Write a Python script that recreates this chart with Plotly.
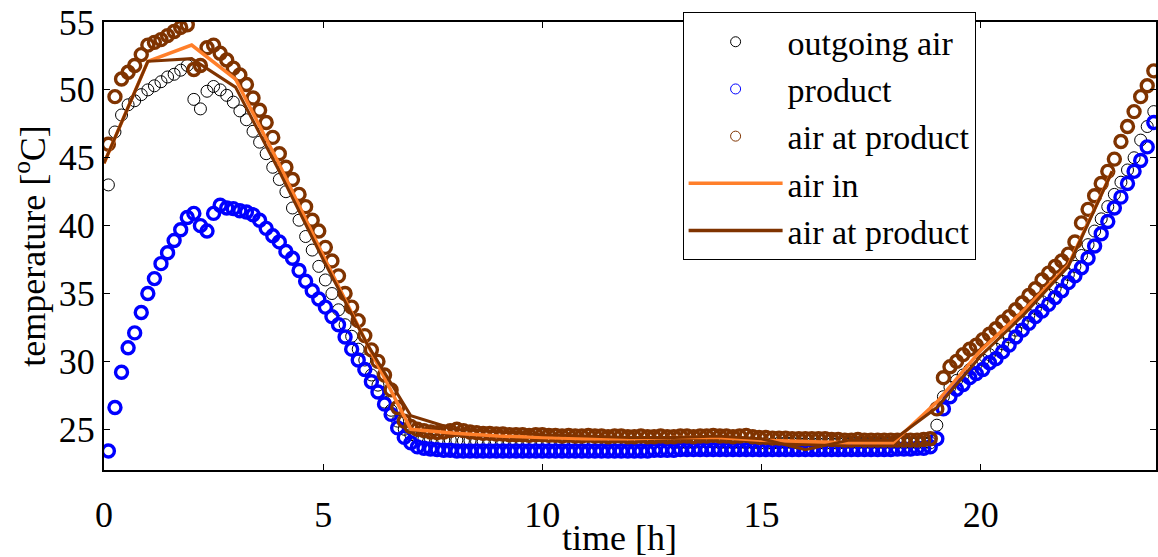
import numpy as np
import plotly.graph_objects as go

# Sampling grid of the logged temperatures [h] (one sample every 9 minutes)
time_h = np.round(0.10 + 0.15 * np.arange(160), 2)

# --- measured temperatures [°C], split into heating / holding / reheating phases
outgoing_heat = [43.0, 46.9, 48.15, 48.9, 49.2, 49.65, 50.0, 50.3, 50.6, 50.95,
                 51.15, 51.45, 51.8, 49.3, 48.6, 49.9, 50.25, 50.0, 49.6, 49.1,
                 48.45, 47.8, 46.95, 46.15, 45.3, 44.3, 43.4, 42.5, 41.3, 40.4,
                 39.2, 38.2, 37.0, 36.0, 35.0, 33.8, 32.7, 31.85, 30.9, 30.1,
                 29.0, 28.25, 27.0, 26.4, 25.6, 25.0, 24.6, 24.4, 24.3]
outgoing_hold = [24.25, 24.2, 24.2, 24.2, 24.2, 24.15, 24.15, 24.1, 24.1, 24.1,
                 24.1, 24.05, 24.05, 24.05, 24.05, 24.0, 24.0, 24.0, 24.0, 24.0,
                 24.0, 24.0, 24.05, 24.0, 24.0, 24.0, 24.0, 24.0, 24.0, 24.0,
                 24.0, 24.0, 24.0, 24.0, 24.05, 24.05, 24.05, 24.0, 24.0, 24.0,
                 24.0, 24.05, 24.05, 24.05, 24.0, 24.0, 24.0, 24.0, 24.0, 24.0,
                 23.95, 23.95, 23.95, 24.0, 24.0, 24.0, 23.95, 23.95, 23.95, 23.95,
                 23.95, 23.95, 23.95, 24.0, 24.0, 24.0, 24.0, 24.0, 24.0, 24.0,
                 24.0, 24.0, 24.0, 24.0, 24.0, 24.0, 24.0]
outgoing_reheat = [25.3, 27.4, 28.1, 28.6, 29.0, 29.4, 29.8, 30.1, 30.5, 30.9,
                   31.3, 31.8, 32.3, 32.9, 33.4, 33.9, 34.4, 34.9, 35.4, 35.9,
                   36.4, 37.0, 37.8, 38.6, 39.6, 40.5, 41.4, 42.3, 43.2, 44.1,
                   45.0, 46.3, 47.3, 48.4]

product_heat = [23.4, 26.6, 29.2, 31.0, 32.1, 33.6, 35.0, 36.1, 37.2, 38.0,
                38.9, 39.7, 40.6, 40.9, 40.0, 39.6, 40.9, 41.5, 41.3, 41.25,
                41.1, 41.0, 40.8, 40.4, 39.8, 39.25, 38.8, 38.1, 37.6, 36.7,
                35.9, 35.2, 34.6, 34.0, 33.3, 32.7, 31.8, 30.9, 30.1, 29.4,
                28.5, 27.75, 26.85, 26.1, 25.1, 24.4, 24.0, 23.7, 23.6]
product_hold = [23.55, 23.5, 23.45, 23.45, 23.4, 23.4, 23.4, 23.4, 23.4, 23.4,
                23.4, 23.4, 23.4, 23.4, 23.4, 23.4, 23.4, 23.4, 23.4, 23.4,
                23.4, 23.4, 23.4, 23.4, 23.4, 23.4, 23.4, 23.4, 23.4, 23.4,
                23.4, 23.4, 23.4, 23.4, 23.45, 23.45, 23.45, 23.45, 23.5, 23.5,
                23.5, 23.5, 23.5, 23.5, 23.5, 23.5, 23.5, 23.5, 23.5, 23.5,
                23.5, 23.5, 23.5, 23.5, 23.5, 23.5, 23.5, 23.5, 23.5, 23.5,
                23.5, 23.5, 23.5, 23.5, 23.5, 23.5, 23.5, 23.5, 23.5, 23.5,
                23.5, 23.55, 23.55, 23.55, 23.6, 23.6, 23.7]
product_reheat = [24.3, 26.5, 27.4, 27.95, 28.3, 28.8, 29.1, 29.4, 29.9, 30.2,
                  30.7, 31.2, 31.8, 32.3, 32.8, 33.3, 33.7, 34.2, 34.7, 35.2,
                  35.8, 36.3, 36.9, 37.6, 38.5, 39.4, 40.3, 41.3, 42.1, 43.1,
                  44.0, 44.8, 45.8, 47.6]

at_product_heat = [46.0, 49.5, 50.8, 51.3, 51.8, 52.6, 53.3, 53.5, 53.7, 54.0,
                   54.3, 54.6, 54.8, 51.5, 51.8, 53.1, 53.3, 52.7, 52.2, 51.6,
                   51.1, 50.4, 49.4, 48.5, 47.6, 46.5, 45.3, 44.3, 43.4, 42.3,
                   41.4, 40.4, 39.6, 38.4, 37.4, 36.3, 35.0, 34.0, 33.0, 31.9,
                   30.85, 30.0, 29.0, 27.9, 26.6, 25.6, 25.2, 25.0, 24.9]
at_product_hold = [24.8, 24.75, 24.8, 24.9, 25.0, 24.9, 24.8, 24.75, 24.7, 24.7,
                   24.65, 24.65, 24.6, 24.6, 24.6, 24.55, 24.6, 24.6, 24.55, 24.55,
                   24.5, 24.55, 24.5, 24.5, 24.55, 24.5, 24.5, 24.45, 24.5, 24.5,
                   24.45, 24.45, 24.5, 24.45, 24.45, 24.5, 24.45, 24.45, 24.5, 24.5,
                   24.45, 24.5, 24.5, 24.55, 24.5, 24.5, 24.45, 24.5, 24.55, 24.45,
                   24.4, 24.4, 24.35, 24.35, 24.35, 24.3, 24.3, 24.3, 24.3, 24.3,
                   24.3, 24.25, 24.25, 24.2, 24.2, 24.25, 24.2, 24.2, 24.2, 24.2,
                   24.2, 24.2, 24.2, 24.2, 24.2, 24.25, 24.3]
at_product_reheat = [26.5, 28.8, 29.6, 30.0, 30.5, 30.9, 31.2, 31.6, 32.0, 32.4,
                     32.9, 33.3, 33.8, 34.3, 34.85, 35.35, 36.0, 36.5, 37.0, 37.4,
                     37.9, 38.8, 40.2, 41.2, 42.2, 43.1, 44.0, 44.9, 46.2, 47.3,
                     48.4, 49.5, 50.3, 51.4]

outgoing_air = outgoing_heat + outgoing_hold + outgoing_reheat
product = product_heat + product_hold + product_reheat
air_at_product = at_product_heat + at_product_hold + at_product_reheat

# --- hourly model curves [°C]
model_hours = list(range(24))
air_in_model = [44.6, 52.1, 53.3, 50.8, 44.5, 37.8, 31.3, 25.0, 24.7, 24.5,
                24.4, 24.3, 24.3, 24.4, 24.4, 24.2, 24.1, 24.0, 24.0, 27.0,
                30.8, 33.8, 37.1, 44.0]
air_at_product_model = [44.6, 52.1, 52.3, 50.2, 44.0, 37.5, 31.3, 26.0, 25.0, 24.8,
                        24.6, 24.5, 24.4, 24.4, 24.5, 24.3, 23.5, 24.2, 24.2, 26.6,
                        30.4, 33.5, 37.0, 44.0]

BLACK = "#000000"
BLUE = "#0000ff"
BROWN = "#7f3300"
ORANGE = "#ff7f2a"
FONT = "Liberation Serif"
FS = 36

fig = go.Figure()

# measured series (thick open circles, thin for the outgoing air)
fig.add_trace(go.Scatter(x=time_h, y=outgoing_air, mode="markers", showlegend=False,
                         marker=dict(symbol="circle-open", size=12, color=BLACK,
                                     line=dict(width=1, color=BLACK))))
fig.add_trace(go.Scatter(x=time_h, y=product, mode="markers", showlegend=False,
                         marker=dict(symbol="circle-open", size=12, color=BLUE,
                                     line=dict(width=3.4, color=BLUE))))
fig.add_trace(go.Scatter(x=time_h, y=air_at_product, mode="markers", showlegend=False,
                         marker=dict(symbol="circle-open", size=12, color=BROWN,
                                     line=dict(width=3.4, color=BROWN))))
# model curves
fig.add_trace(go.Scatter(x=model_hours, y=air_in_model, mode="lines", showlegend=False,
                         line=dict(color=ORANGE, width=3.5)))
fig.add_trace(go.Scatter(x=model_hours, y=air_at_product_model, mode="lines",
                         showlegend=False, line=dict(color=BROWN, width=3)))

# legend entries (thin symbols)
legend_items = [
    ("outgoing air", "markers", BLACK),
    ("product", "markers", BLUE),
    ("air at product", "markers", BROWN),
    ("air in", "lines", ORANGE),
    ("air at product", "lines", BROWN),
]
for name, mode, col in legend_items:
    if mode == "markers":
        fig.add_trace(go.Scatter(x=[None], y=[None], mode="markers", name=name,
                                 marker=dict(symbol="circle-open", size=10, color=col,
                                             line=dict(width=1, color=col))))
    else:
        fig.add_trace(go.Scatter(x=[None], y=[None], mode="lines", name=name,
                                 line=dict(color=col, width=3.5)))

axis_common = dict(showline=True, linecolor="black", linewidth=2, mirror="ticks",
                   ticks="inside", ticklen=6, tickwidth=1, tickcolor="black",
                   showgrid=False, zeroline=False, automargin=False,
                   tickfont=dict(family=FONT, size=FS, color="black"))

fig.update_layout(
    width=1158, height=557,
    margin=dict(l=104, r=2, t=22, b=87),
    paper_bgcolor="white", plot_bgcolor="white",
    font=dict(family=FONT, size=FS, color="black"),
    xaxis=dict(range=[0, 24], tickvals=[0, 5, 10, 15, 20], ticklabelstandoff=12,
               **axis_common),
    yaxis=dict(range=[22, 55], tickvals=[25, 30, 35, 40, 45, 50, 55], ticklabelstandoff=0,
               title=dict(text="temperature [<sup>o</sup>C]", font=dict(family=FONT, size=FS),
                          standoff=2),
               **axis_common),
    legend=dict(x=0.55, y=1.022, xanchor="left", yanchor="top",
                bgcolor="white", bordercolor="black", borderwidth=1,
                font=dict(family=FONT, size=34, color="black"),
                itemwidth=94),
    annotations=[dict(text="time [h]", x=0.49, y=-0.151, xref="paper", yref="paper",
                      xanchor="center", yanchor="middle", showarrow=False,
                      font=dict(family=FONT, size=FS, color="black"))],
)

fig.write_html("out.html")
